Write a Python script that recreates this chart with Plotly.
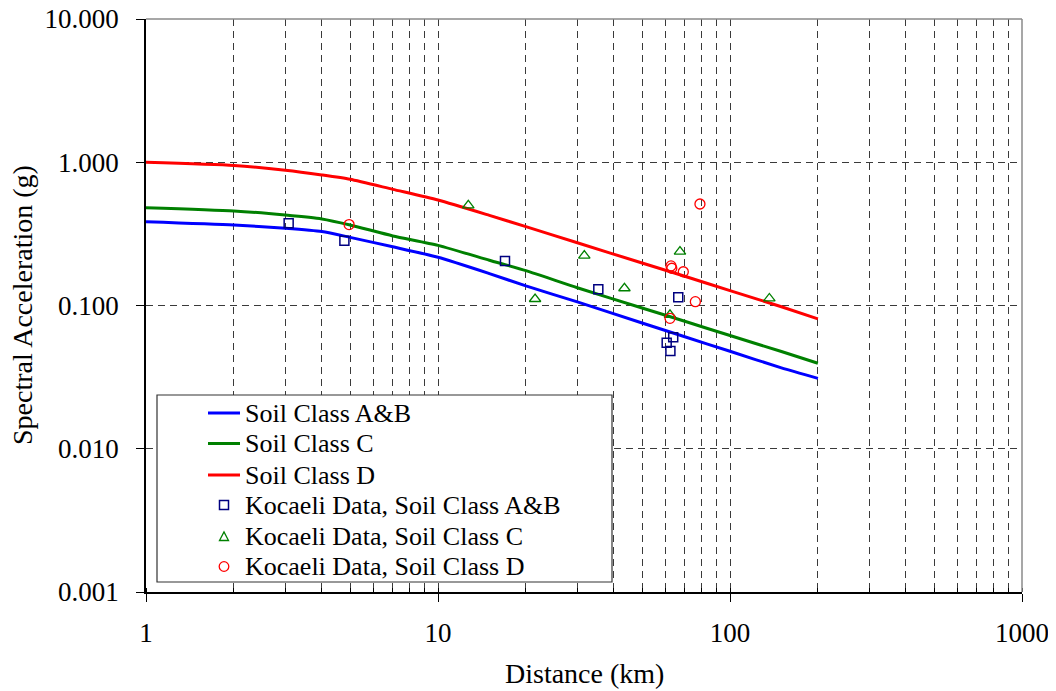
import plotly.graph_objects as go

# Curves (attenuation relations)
dist = [1, 2, 3, 4, 5, 7, 10, 15, 20, 30, 50, 70, 100, 150, 200]
sa_ab = [0.385, 0.365, 0.346, 0.328, 0.299, 0.257, 0.217, 0.167, 0.137, 0.106, 0.0755, 0.0605, 0.0479, 0.0367, 0.0310]
sa_c = [0.482, 0.457, 0.428, 0.402, 0.365, 0.306, 0.263, 0.207, 0.175, 0.133, 0.096, 0.0776, 0.0617, 0.0477, 0.0395]
sa_d = [1.00, 0.95, 0.88, 0.815, 0.76, 0.647, 0.545, 0.426, 0.355, 0.274, 0.198, 0.160, 0.127, 0.098, 0.0807]

# Kocaeli data
koc_ab_x = [3.08, 4.78, 16.96, 35.4, 66.5, 60.7, 63.9, 62.5]
koc_ab_y = [0.375, 0.2835, 0.2046, 0.130, 0.114, 0.055, 0.060, 0.0481]
koc_c_x = [12.7, 21.5, 31.7, 43.5, 67.4, 136.4, 62.3]
koc_c_y = [0.50, 0.111, 0.223, 0.132, 0.2375, 0.112, 0.086]
koc_d_x = [4.96, 78.9, 62.8, 63.2, 69.2, 76.1, 62.3]
koc_d_y = [0.367, 0.511, 0.189, 0.182, 0.172, 0.1063, 0.0814]

x_ticks = [1, 10, 100, 1000]
x_labels = ["1", "10", "100", "1000"]
y_ticks = [0.001, 0.01, 0.1, 1, 10]
y_labels = ["0.001", "0.010", "0.100", "1.000", "10.000"]

x_title = "Distance (km)"
y_title = "Spectral Acceleration (g)"
legend_names = ["Soil Class A&B", "Soil Class C", "Soil Class D",
                "Kocaeli Data, Soil Class A&B", "Kocaeli Data, Soil Class C", "Kocaeli Data, Soil Class D"]

FONT = "Liberation Serif, Times New Roman, serif"
BLUE, GREEN, RED, NAVY = "#0000FF", "#008000", "#FF0000", "#000080"

# page body has an 8px margin: figure is drawn offset by (8, 8)
OFF = 8
W, H = 1056 - OFF, 691 - OFF
L, T = 146 - OFF, 19 - OFF
PW, PH = 876, 573
R, B = W - L - PW, H - T - PH


def px(xp):
    return (xp - OFF - L) / PW


def py(yp):
    return (T + PH - (yp - OFF)) / PH


fig = go.Figure()
fig.add_trace(go.Scatter(x=dist, y=sa_ab, mode="lines", name=legend_names[0], showlegend=False,
                         line=dict(color=BLUE, width=3, shape="spline", smoothing=0.6)))
fig.add_trace(go.Scatter(x=dist, y=sa_c, mode="lines", name=legend_names[1], showlegend=False,
                         line=dict(color=GREEN, width=3, shape="spline", smoothing=0.6)))
fig.add_trace(go.Scatter(x=dist, y=sa_d, mode="lines", name=legend_names[2], showlegend=False,
                         line=dict(color=RED, width=3, shape="spline", smoothing=0.6)))
fig.add_trace(go.Scatter(x=koc_ab_x, y=koc_ab_y, mode="markers", name=legend_names[3], showlegend=False,
                         marker=dict(symbol="square-open", size=9, color=NAVY, line=dict(width=1.5))))
fig.add_trace(go.Scatter(x=koc_c_x, y=koc_c_y, mode="markers", name=legend_names[4], showlegend=False,
                         marker=dict(symbol="triangle-up-open", size=10, color=GREEN, line=dict(width=1.3))))
fig.add_trace(go.Scatter(x=koc_d_x, y=koc_d_y, mode="markers", name=legend_names[5], showlegend=False,
                         marker=dict(symbol="circle-open", size=10, color=RED, line=dict(width=1.3))))

grid_col = "#3a3a3a"
fig.update_xaxes(type="log", range=[0, 3], tickvals=x_ticks, ticktext=x_labels, automargin=False,
                 ticklabeloverflow="allow",
                 showline=True, linecolor="black", linewidth=1.5,
                 ticks="outside", ticklen=8, tickcolor="black",
                 showgrid=True, gridcolor=grid_col, griddash="7px,5px", gridwidth=1,
                 minor=dict(dtick="D1", ticks="inside", ticklen=4, tickcolor="black",
                            showgrid=True, gridcolor=grid_col, griddash="7px,5px", gridwidth=1),
                 ticklabelstandoff=8,
                 tickfont=dict(family=FONT, size=27, color="black"),
                 zeroline=False)
fig.update_yaxes(type="log", range=[-3, 1], tickvals=y_ticks, ticktext=y_labels, automargin=False,
                 ticklabeloverflow="allow",
                 showline=True, linecolor="black", linewidth=1.5,
                 ticks="outside", ticklen=8, tickcolor="black",
                 showgrid=True, gridcolor=grid_col, griddash="7px,5px", gridwidth=1,
                 ticklabelstandoff=12,
                 tickfont=dict(family=FONT, size=27, color="black"),
                 zeroline=False)

# axis titles
fig.add_annotation(xref="paper", yref="paper", x=px(584), y=py(673), text=x_title, showarrow=False,
                   xanchor="center", yanchor="middle", font=dict(family=FONT, size=28, color="black"))
fig.add_annotation(xref="paper", yref="paper", x=px(22), y=py(305), text=y_title, showarrow=False,
                   textangle=-90, xanchor="center", yanchor="middle",
                   font=dict(family=FONT, size=28, color="black"))

# top/right gray border
fig.add_shape(type="line", xref="paper", yref="paper", x0=0, x1=1, y0=1, y1=1,
              line=dict(color="#8a8a8a", width=1.5), layer="above")
fig.add_shape(type="line", xref="paper", yref="paper", x0=1, x1=1, y0=0, y1=1,
              line=dict(color="#8a8a8a", width=1.5), layer="above")

# legend box
fig.add_shape(type="rect", xref="paper", yref="paper",
              x0=px(157), x1=px(612), y0=py(582), y1=py(395),
              fillcolor="white", line=dict(color="#333333", width=1.2), layer="above")

rows = [413, 443.5, 475, 505, 536.5, 566.5]
line_cols = [BLUE, GREEN, RED]
for i in range(3):
    fig.add_shape(type="line", xref="paper", yref="paper",
                  x0=px(208), x1=px(240), y0=py(rows[i]), y1=py(rows[i]),
                  line=dict(color=line_cols[i], width=3), layer="above")
mx = px(224)
# square
fig.add_shape(type="rect", xref="paper", yref="paper", xsizemode="pixel", ysizemode="pixel",
              xanchor=mx, yanchor=py(rows[3]), x0=-4.5, x1=4.5, y0=-4.5, y1=4.5,
              line=dict(color=NAVY, width=1.5), fillcolor="rgba(0,0,0,0)", layer="above")
# triangle
fig.add_shape(type="path", xref="paper", yref="paper", xsizemode="pixel", ysizemode="pixel",
              xanchor=mx, yanchor=py(rows[4]), path="M -4.5,-4 L 4.5,-4 L 0,4.5 Z",
              line=dict(color=GREEN, width=1.3), fillcolor="rgba(0,0,0,0)", layer="above")
# circle
fig.add_shape(type="circle", xref="paper", yref="paper", xsizemode="pixel", ysizemode="pixel",
              xanchor=mx, yanchor=py(rows[5]), x0=-4.8, x1=4.8, y0=-4.8, y1=4.8,
              line=dict(color=RED, width=1.3), fillcolor="rgba(0,0,0,0)", layer="above")

for i, name in enumerate(legend_names):
    fig.add_annotation(xref="paper", yref="paper", x=px(243), y=py(rows[i]),
                       text=name, showarrow=False, xanchor="left", yanchor="middle",
                       font=dict(family=FONT, size=26, color="black"))

fig.update_layout(
    width=W, height=H,
    margin=dict(l=L, r=R, t=T, b=B),
    paper_bgcolor="white", plot_bgcolor="white",
    font=dict(family=FONT, color="black"),
    showlegend=False,
)

fig.write_html("out.html")
